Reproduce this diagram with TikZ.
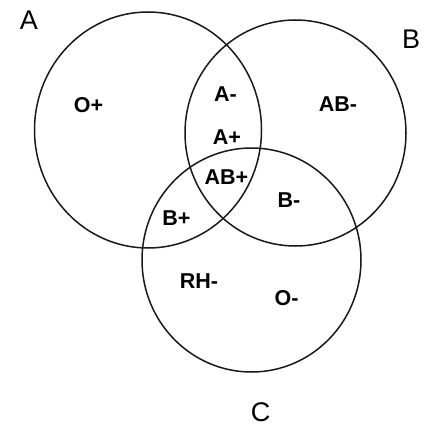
\documentclass[tikz,border=0pt]{standalone}
\usepackage{fontspec}
\setmainfont{Liberation Sans}
\begin{document}
\begin{tikzpicture}[x=1pt,y=-1pt,
  ring/.style={draw=black!90,line width=1.5pt},
  inlabel/.style={inner sep=0pt,text height=15.4pt,text depth=0pt,anchor=center,
    font=\fontsize{21.5}{22}\selectfont\bfseries},
  outlabel/.style={inner sep=0pt,text height=19.5pt,text depth=0pt,anchor=center,
    font=\fontsize{27}{28}\selectfont}]
\useasboundingbox[fill=white] (0,0) rectangle (428,428);
\draw[ring] (148,130) ellipse [x radius=113.5, y radius=118];
\draw[ring] (295.5,133) ellipse [x radius=110.5, y radius=113];
\draw[ring] (251.5,260) ellipse [x radius=109.5, y radius=112];
\node[outlabel] (la) at (29,19.5) {A};
\node[outlabel] (lb) at (411,39) {B};
\node[outlabel] (lc) at (260.7,412) {C};
\node[inlabel] (op) at (88.5,105) {O+};
\node[inlabel] (am) at (225.5,93.5) {A-};
\node[inlabel] (ap) at (227,136.5) {A+};
\node[inlabel] (abp) at (226.5,176.5) {AB+};
\node[inlabel] (abm) at (338,104) {AB-};
\node[inlabel] (bm) at (289,200) {B-};
\node[inlabel] (bp) at (176.5,218) {B+};
\node[inlabel] (rh) at (199,280.5) {RH-};
\node[inlabel] (om) at (286.5,297.5) {O-};
\end{tikzpicture}
\end{document}
